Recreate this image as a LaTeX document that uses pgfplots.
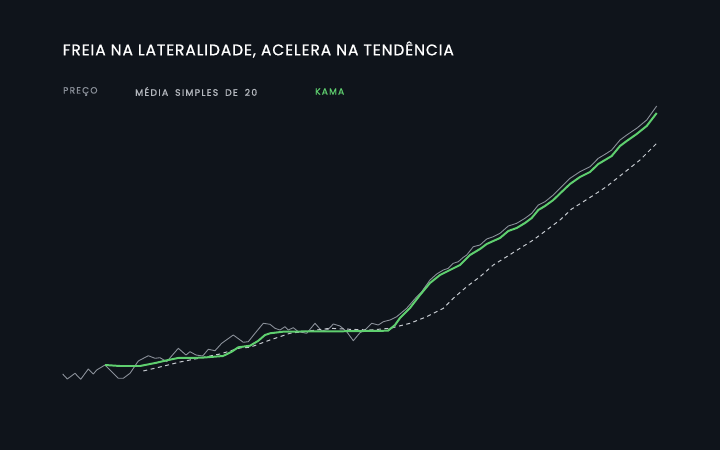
\documentclass[border=0pt]{standalone}
\usepackage{fontspec}
\setmainfont{Poppins}
\usepackage{pgfplots}
\pgfplotsset{compat=1.18}
\usepackage{pgfplotstable}
\definecolor{bg}{HTML}{0F141B}
\definecolor{pricec}{HTML}{8A9099}
\definecolor{smac}{HTML}{C4C8CE}
\definecolor{kamac}{HTML}{5FCF6F}
\definecolor{legsma}{HTML}{B4B8BE}

% x, y in pixels (y grows downward)
\pgfplotstableread{
x y
62.7 374
67.3 379
75 373.3
80.7 379.3
88.3 369
93.3 374
96.7 370
105 365
111.7 371.7
118.3 378.3
123.3 378.3
130 373.3
138.3 361
148.3 355.7
155 358.3
160 357.7
166.7 361.7
178.3 348.3
186 355
190 351.7
196 355
202.7 356
208.3 349.3
215 350.7
221.7 343.3
233.3 335
243.3 342.3
248.3 341.7
255 333.3
263.3 323.3
270 324.3
275 328.3
280 330
285 326.7
288.3 330
293.3 327.7
298.3 331.7
306.7 333.3
315 323.3
321.7 331
328.3 329.3
333.3 324
340 326
346.7 331.7
353.3 340.7
360 332.7
365 330
371.7 323.3
378.3 325
383.3 321.7
390 320
396.7 316.7
406.7 308.3
416.7 296.7
421.7 291.7
430 280
436.7 274
443.3 270
448.3 268.3
453.3 263.3
458.3 261.7
463.3 257.3
466.7 255
473.3 246.7
480 245
486.7 239
493.3 236.7
500 233.3
508.3 226
516.7 223.3
525 218.3
531.7 213.3
538.3 205
545 201.7
553.3 195
560 188.3
570 178.3
580 171.7
590 166.7
598.3 158.3
606.7 153.3
611.7 150
620 140
626.7 135
636.7 128.3
646.7 120
656.7 106
}\price

\pgfplotstableread{
x y
143.3 371
160 367
180 362
200 358
220 354
240 348
250 347.3
270 340
290 333.3
316.7 330
330 328.3
350 329.3
370 330
390 328.3
410 323.3
426.7 316.7
443.3 308.3
453.3 298.3
466.7 286.7
480 276.7
493.3 265
506.7 256.7
520 248.3
533.3 240
546.7 230
560 220
571.7 209
590 197.5
606.7 186.5
623 173.5
640 160
657.3 142.7
}\sma

\pgfplotstableread{
x y
105 365
120 366
140 366
156.7 362.7
165 360.7
178 358
201.7 357.7
223 356
231.7 351.7
238.3 347.3
250 345.7
258 341
265 335
270 333.3
283 331.7
300 331.5
340 331.3
388 330.7
395 325
400 318
410 308
420 295
430 283
440 275
450 270
460 265
470 255
480 249
486.7 244
493.3 241
500 238
508.3 231
516.7 228
525 223
531.7 218
538.3 210
545 206
553.3 200
560 193.5
570 184
580 177
590 172
598.3 164
606.7 159
611.7 156
620 146
626.7 141
636.7 134
646.7 126
656.7 113
}\kama

\begin{document}
\begin{tikzpicture}
\begin{axis}[
    x=1bp, y=1bp,
    xmin=0, xmax=720, ymin=0, ymax=450,
    y dir=reverse,
    hide axis,
    clip=false,
    scale only axis,
]
\fill[bg] (axis cs:0,0) rectangle (axis cs:720,450);
\node[anchor=west, inner sep=0pt, text=white, font=\fontsize{15.5}{15.5}\selectfont\addfontfeature{FakeBold=0.8,LetterSpace=6}]
    at (axis cs:62.5,49.5) {FREIA NA LATERALIDADE, ACELERA NA TENDÊNCIA};
\node[anchor=west, inner sep=0pt, text=pricec, font=\fontsize{9}{9}\selectfont\addfontfeature{FakeBold=1.2,LetterSpace=14}]
    at (axis cs:63,91.5) {PREÇO};
\node[anchor=west, inner sep=0pt, text=legsma, font=\fontsize{9.3}{9.3}\selectfont\addfontfeature{FakeBold=1.2,LetterSpace=14}]
    at (axis cs:135,91.5) {MÉDIA\hspace{3.2bp} SIMPLES\hspace{3.2bp} DE\hspace{3.2bp} 20};
\node[anchor=west, inner sep=0pt, text=kamac, font=\fontsize{9}{9}\selectfont\addfontfeature{FakeBold=1.2,LetterSpace=14}]
    at (axis cs:315,91.5) {KAMA};
\addplot[pricec, line width=0.9pt, line join=round] table {\price};
\addplot[smac, line width=1pt, dash pattern=on 4pt off 3.5pt] table {\sma};
\addplot[kamac, line width=2pt, line join=round] table {\kama};
\end{axis}
\end{tikzpicture}
\end{document}
